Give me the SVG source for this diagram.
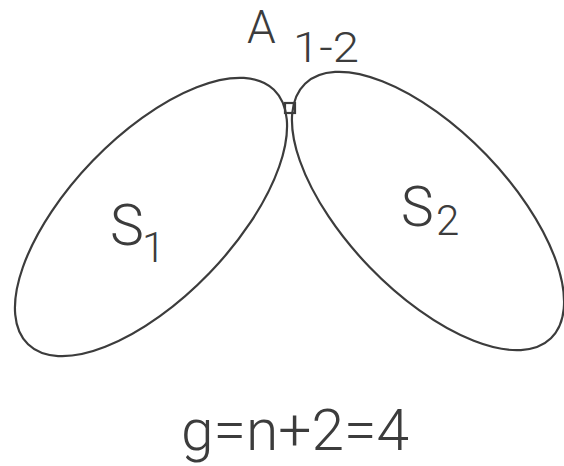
<svg xmlns="http://www.w3.org/2000/svg" width="564" height="466" viewBox="0 0 564 466">
<style>
.ln{fill:none;stroke:#3c3c3c;stroke-width:2.2}
.t{font-family:Roboto,"Liberation Sans",sans-serif;font-weight:300;fill:#3c3c3c}
</style>
<rect width="564" height="466" fill="#fff"/>
<g id="S1">
<ellipse class="ln" cx="151" cy="217" rx="177" ry="81" transform="rotate(-46 151 217)"/>
<text class="t" x="110" y="245" font-size="57">S</text>
<text class="t" x="142" y="262" font-size="42">1</text>
</g>
<g id="S2">
<ellipse class="ln" cx="428" cy="211" rx="177" ry="81" transform="rotate(46 428 211)"/>
<text class="t" x="401" y="226" font-size="55">S</text>
<text class="t" x="436" y="235" font-size="42">2</text>
</g>
<g id="A12">
<rect class="ln" x="285" y="103" width="10" height="10"/>
<text class="t" x="247" y="43" font-size="46">A</text>
<text class="t" x="293" y="62" font-size="42" textLength="66" lengthAdjust="spacingAndGlyphs">1-2</text>
</g>
<g id="connectors"></g>
<text class="t" x="181" y="450" font-size="58" textLength="228" lengthAdjust="spacingAndGlyphs">g=n+2=4</text>
</svg>
